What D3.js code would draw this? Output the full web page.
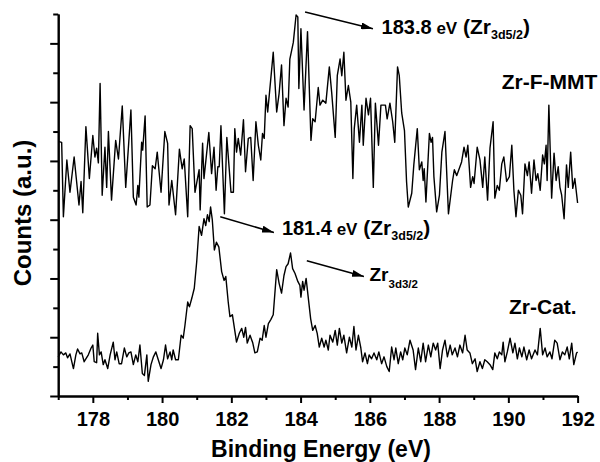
<!DOCTYPE html>
<html lang="en">
<head>
<meta charset="UTF-8">
<title>Zr 3d XPS spectra</title>
<style>
  body{margin:0;background:#fff;}
  svg{display:block;font-family:"Liberation Sans",Arial,Helvetica,sans-serif;font-weight:bold;}
  .line{fill:none;stroke:#000;stroke-width:1.4px;stroke-linejoin:round;}
  .axis path,.axis line{stroke:#000;stroke-width:2px;}
</style>
</head>
<body>
<script src="https://cdn.jsdelivr.net/npm/d3@7/dist/d3.min.js"></script>
<script>
// [binding energy (eV), counts (a.u.)]
const zrFmmt = [
  [177.00,260],[177.10,259],[177.15,183],[177.25,241],[177.34,208],[177.46,244],[177.60,195],[177.66,219],[177.71,187],[177.80,275],
  [177.90,222],[178.00,266],[178.06,244],[178.11,253],[178.16,238],[178.21,319],[178.27,205],[178.35,254],[178.40,213],[178.45,270],
  [178.54,200],[178.66,261],[178.74,242],[178.85,296],[178.95,213],[179.10,292],[179.17,203],[179.25,195],[179.30,215],[179.33,203],
  [179.41,259],[179.44,251],[179.51,286],[179.57,193],[179.65,195],[179.72,235],[179.80,232],[179.86,249],[179.97,208],[180.08,270],
  [180.16,258],[180.20,195],[180.28,220],[180.39,185],[180.50,252],[180.58,232],[180.64,242],[180.74,183],[180.81,276],[180.87,273],
  [180.95,208],[181.07,231],[181.10,190],[181.17,258],[181.21,222],[181.35,269],[181.43,227],[181.50,254],[181.56,210],[181.61,234],
  [181.65,234],[181.70,276],[181.80,186],[181.87,264],[181.99,208],[182.06,208],
  [182.10,273],[182.15,249],[182.20,263],[182.27,246],[182.35,282],[182.41,229],[182.49,263],[182.56,264],[182.63,220],[182.71,280],
  [182.78,256],[182.85,241],[182.90,268],[182.95,263],[183.00,307],[183.05,290],[183.14,324],[183.21,351],[183.31,290],[183.38,309],
  [183.45,338],[183.52,276],[183.58,304],[183.64,295],[183.69,344],[183.79,361],[183.87,389],[183.92,387],[183.95,314],[184.01,375],
  [184.10,292],[184.20,372],[184.30,261],[184.35,283],[184.42,280],[184.51,315],[184.56,297],[184.64,302],[184.73,299],[184.83,336],
  [184.90,309],[185.00,264],[185.06,327],[185.14,344],[185.19,327],[185.25,351],[185.31,302],[185.38,317],[185.45,300],[185.51,222],
  [185.55,273],[185.62,297],[185.70,259],[185.77,297],[185.81,256],[185.89,304],[185.96,287],[186.02,304],[186.10,213],[186.16,299],
  [186.25,256],[186.32,297],[186.39,297],[186.45,297],[186.50,283],[186.58,299],[186.66,280],[186.72,259],[186.80,336],[186.85,327],
  [186.92,289],[187.00,271],[187.06,219],[187.11,193],[187.21,207],[187.27,236],[187.37,273],[187.43,231],[187.50,239],[187.54,220],
  [187.57,232],[187.62,198],[187.72,268],[187.77,259],[187.81,264],[187.85,224],[187.93,188],[188.01,205],[188.08,249],[188.17,270],
  [188.27,186],[188.39,220],[188.44,231],[188.51,225],[188.58,232],[188.65,239],[188.72,254],[188.78,244],[188.83,256],[188.91,213],
  [188.97,224],[189.01,217],[189.10,254],[189.18,241],[189.26,213],[189.32,244],[189.40,200],[189.47,253],[189.56,280],[189.61,202],
  [189.68,215],[189.74,210],[189.81,237],[189.87,244],[189.95,219],[190.03,224],[190.10,256],[190.16,210],[190.22,183],[190.29,210],
  [190.36,205],[190.41,186],[190.48,237],[190.55,225],[190.60,239],[190.67,207],[190.74,241],[190.80,220],[190.85,227],[190.92,210],
  [190.99,246],[191.04,237],[191.09,256],[191.12,220],[191.17,297],[191.25,202],[191.32,248],[191.38,220],[191.44,234],[191.49,213],
  [191.54,205],[191.61,181],[191.68,236],[191.73,213],[191.80,249],[191.86,212],[191.92,222],[192.00,197]
];

const zrCat = [
  [177.00,40],[177.08,45],[177.15,42],[177.22,44],[177.27,39],[177.34,43],[177.44,28],[177.51,42],[177.56,48],[177.63,43],
  [177.68,44],[177.75,35],[177.87,42],[177.95,49],[178.00,52],[178.04,35],[178.11,34],[178.14,64],[178.19,42],[178.24,45],
  [178.30,32],[178.35,37],[178.43,28],[178.50,42],[178.59,55],[178.64,37],[178.69,45],[178.76,33],[178.83,33],[178.91,49],
  [178.98,40],[179.04,44],[179.10,45],[179.17,32],[179.24,42],[179.30,35],[179.36,52],[179.43,23],[179.49,21],[179.56,42],
  [179.60,15],[179.68,32],[179.75,40],[179.82,45],[179.89,37],[179.97,28],[180.04,37],[180.10,52],[180.16,38],[180.23,45],
  [180.28,37],[180.32,47],[180.39,37],[180.47,37],[180.55,62],[180.61,59],[180.66,72],[180.74,96],[180.79,91],[180.86,100],
  [180.93,110],[181.00,137],[181.07,173],[181.14,164],[181.21,181],[181.26,174],[181.31,185],[181.36,178],[181.40,193],[181.45,180],
  [181.51,149],[181.57,157],[181.64,152],[181.72,127],[181.79,118],[181.84,122],[181.91,96],[181.96,81],[182.03,83],[182.15,55],
  [182.23,64],[182.30,69],[182.36,60],[182.41,70],[182.46,54],[182.54,62],[182.62,54],[182.68,44],[182.75,45],[182.83,59],
  [182.89,57],[182.95,72],[183.00,60],[183.07,74],[183.14,78],[183.21,83],[183.31,129],[183.38,115],[183.45,105],[183.52,123],
  [183.58,132],[183.64,135],[183.71,146],[183.77,130],[183.84,125],[183.92,117],[183.98,113],[184.01,101],[184.06,117],[184.10,108],
  [184.16,120],[184.22,101],[184.29,79],[184.35,67],[184.42,72],[184.48,64],[184.54,50],[184.61,59],[184.68,50],[184.73,57],
  [184.80,47],[184.85,62],[184.93,55],[185.00,67],[185.06,52],[185.12,69],[185.19,54],[185.25,62],[185.33,44],[185.41,60],
  [185.48,50],[185.54,71],[185.60,47],[185.67,62],[185.74,49],[185.79,35],[185.86,44],[185.93,33],[185.98,42],[186.05,38],
  [186.12,44],[186.20,37],[186.26,45],[186.34,33],[186.41,40],[186.49,30],[186.56,25],[186.63,50],[186.70,37],[186.75,49],
  [186.82,33],[186.89,45],[186.95,37],[187.01,49],[187.08,42],[187.16,57],[187.25,47],[187.32,27],[187.40,49],[187.47,35],
  [187.54,54],[187.61,35],[187.69,52],[187.76,40],[187.83,54],[187.90,47],[187.96,54],[188.03,28],[188.10,47],[188.17,57],
  [188.24,40],[188.32,52],[188.38,42],[188.46,49],[188.53,40],[188.60,52],[188.68,44],[188.75,62],[188.81,47],[188.89,44],
  [188.96,33],[189.04,38],[189.10,25],[189.18,35],[189.25,28],[189.32,37],[189.39,35],[189.47,32],[189.55,27],[189.61,44],
  [189.68,38],[189.74,45],[189.81,42],[189.85,55],[189.90,35],[189.97,45],[190.05,59],[190.13,44],[190.19,54],[190.26,38],
  [190.32,49],[190.39,40],[190.45,50],[190.53,37],[190.60,47],[190.67,38],[190.77,47],[190.84,42],[190.92,69],[190.99,42],
  [191.06,49],[191.12,40],[191.20,45],[191.26,38],[191.34,57],[191.41,54],[191.49,37],[191.56,45],[191.63,42],[191.70,50],
  [191.76,38],[191.83,54],[191.89,32],[191.97,44],[192.00,45]
];

const xMajor = [178, 180, 182, 184, 186, 188, 190, 192];
const xMinor = [177, 179, 181, 183, 185, 187, 189, 191];
const yMajor = [0, 60, 120, 180, 240, 300, 360];
const yMinor = [30, 90, 150, 210, 270, 330, 390];

// peak annotations: arrow tail -> head, label anchored at [energy, counts]
const arrows = [
  [[184.13, 392], [186.09, 375]],
  [[181.68, 183], [183.23, 167]],
  [[184.18, 138], [185.83, 122]]
];
const labels = [
  {at: [186.34, 370], parts: [["183.8", 20], [" eV", 17], [" (Zr", 21], ["3d5/2", 12.5, 5], [")", 21]]},
  {at: [183.46, 164], parts: [["181.4", 20], [" eV", 17], [" (Zr", 21], ["3d5/2", 12.5, 5], [")", 21]]},
  {at: [185.99, 117], parts: [["Zr", 19], ["3d3/2", 11.5, 7]]},
  {at: [189.81, 313], parts: [["Zr-F-MMT", 21]]},
  {at: [190.02, 84], parts: [["Zr-Cat.", 21]]}
];

const width = 600, height = 462;
const x = d3.scaleLinear().domain([177, 192]).range([58.2, 577.6]);
const y = d3.scaleLinear().domain([0, 390]).range([396, 14]);

const svg = d3.select('body').append('svg')
  .attr('width', width)
  .attr('height', height);

svg.append('defs').append('marker')
  .attr('id', 'head')
  .attr('viewBox', '0 0 12 7')
  .attr('refX', 12).attr('refY', 3.5)
  .attr('markerUnits', 'userSpaceOnUse')
  .attr('markerWidth', 12).attr('markerHeight', 7)
  .attr('orient', 'auto')
  .append('path').attr('d', 'M0,0L12,3.5L0,7Z').attr('fill', '#000');

// axes
const fmtNone = () => '';
svg.append('g').attr('class', 'axis')
  .attr('transform', 'translate(0,396)')
  .call(d3.axisBottom(x).tickValues(xMinor).tickSize(4).tickSizeOuter(0).tickFormat(fmtNone));
const gx = svg.append('g').attr('class', 'axis')
  .attr('transform', 'translate(0,396)')
  .call(d3.axisBottom(x).tickValues(xMajor).tickSize(7).tickSizeOuter(0).tickPadding(9).tickFormat(d3.format('d')));
gx.selectAll('text').attr('font-size', 20).attr('font-weight', 'bold')
  .attr('font-family', '"Liberation Sans",Arial,sans-serif').attr('fill', '#000');

svg.append('g').attr('class', 'axis')
  .attr('transform', 'translate(58.2,0)')
  .call(d3.axisLeft(y).tickValues(yMinor).tickSize(5).tickSizeOuter(0).tickFormat(fmtNone));
svg.append('g').attr('class', 'axis')
  .attr('transform', 'translate(58.2,0)')
  .call(d3.axisLeft(y).tickValues(yMajor).tickSize(8).tickSizeOuter(0).tickFormat(fmtNone));

// spectra
const line = d3.line().x(d => x(d[0])).y(d => y(d[1]));
svg.selectAll('path.line')
  .data([zrFmmt, zrCat])
  .enter()
  .append('path')
  .attr('class', 'line')
  .attr('d', d => line(d));

// arrows
svg.selectAll('line.arrow')
  .data(arrows)
  .enter()
  .append('line')
  .attr('class', 'arrow')
  .attr('x1', d => x(d[0][0])).attr('y1', d => y(d[0][1]))
  .attr('x2', d => x(d[1][0])).attr('y2', d => y(d[1][1]))
  .attr('stroke', '#000').attr('stroke-width', 1.5)
  .attr('marker-end', 'url(#head)');

// text labels with subscripts
labels.forEach(function(l){
  const t = svg.append('text')
    .attr('x', x(l.at[0])).attr('y', y(l.at[1]));
  let shift = 0;
  l.parts.forEach(function(p){
    const off = p[2] || 0;
    t.append('tspan')
      .attr('font-size', p[1])
      .attr('dy', off - shift)
      .text(p[0]);
    shift = off;
  });
});

svg.append('text')
  .attr('x', 321).attr('y', 457)
  .attr('text-anchor', 'middle')
  .attr('font-size', 23)
  .text('Binding Energy (eV)');

svg.append('text')
  .attr('transform', 'translate(31,213) rotate(-90)')
  .attr('text-anchor', 'middle')
  .attr('font-size', 24)
  .text('Counts (a.u.)');
</script>
</body>
</html>
